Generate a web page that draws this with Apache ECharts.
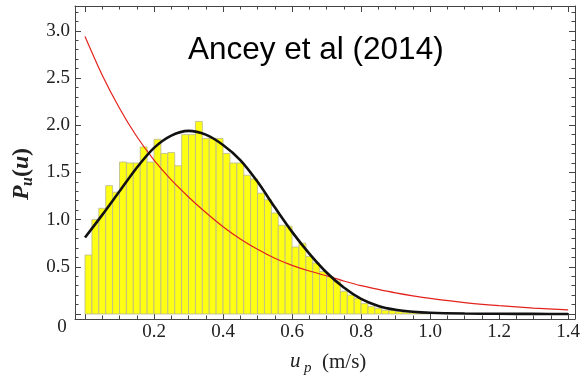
<!DOCTYPE html>
<html><head><meta charset="utf-8">
<script src="https://cdn.jsdelivr.net/npm/echarts@6/dist/echarts.min.js"></script>
<style>html,body{margin:0;padding:0;background:#fff}#c{width:583px;height:381px}</style>
</head><body><div id="c"></div>
<script>
// Histogram bins (left edges, width) and heights
const binWidth = 0.02;
const binStarts = [0.00,0.02,0.04,0.06,0.08,0.10,0.12,0.14,0.16,0.18,
  0.20,0.22,0.24,0.26,0.28,0.30,0.32,0.34,0.36,0.38,
  0.40,0.42,0.44,0.46,0.48,0.50,0.52,0.54,0.56,0.58,
  0.60,0.62,0.64,0.66,0.68,0.70,0.72,0.74,0.76,0.78,
  0.80,0.82,0.84,0.86,0.88,0.90,0.92,0.94,0.96,0.98];
const binHeights = [0.625,1.00,1.12,1.36,1.29,1.61,1.60,1.60,1.77,1.61,
  1.85,1.70,1.71,1.57,1.90,1.90,2.04,1.86,1.86,1.86,
  1.70,1.60,1.60,1.47,1.43,1.28,1.21,1.07,0.94,0.93,
  0.71,0.75,0.61,0.54,0.45,0.395,0.35,0.24,0.20,0.166,
  0.11,0.077,0.06,0.04,0.035,0.025,0.018,0.012,0.008,0.006];

// Black fitted curve
const fitU = [0.00,0.05,0.10,0.15,0.20,0.25,0.30,0.35,0.40,0.45,0.50,0.55,0.60,0.65,0.70,0.75,0.80,0.85,0.90,0.95,1.00,1.10,1.20,1.30,1.40];
const fitP = [0.81,1.05,1.30,1.55,1.76,1.89,1.94,1.90,1.79,1.63,1.40,1.13,0.87,0.64,0.44,0.28,0.16,0.085,0.045,0.024,0.013,0.005,0.002,0.001,0.0];

// Red curve
const expU = [0.00,0.05,0.10,0.15,0.20,0.25,0.30,0.35,0.40,0.45,0.50,0.55,0.60,0.65,0.70,0.75,0.80,0.85,0.90,0.95,1.00,1.10,1.20,1.30,1.40];
const expP = [2.94,2.53,2.18,1.88,1.63,1.42,1.24,1.075,0.925,0.795,0.685,0.59,0.515,0.455,0.405,0.35,0.30,0.26,0.223,0.192,0.165,0.12,0.088,0.063,0.043];

// Ticks
const xMajor = [0,0.2,0.4,0.6,0.8,1.0,1.2,1.4];
const xLabels = [0.2,0.4,0.6,0.8,1.0,1.2,1.4];
const xMinor = [0.05,0.1,0.15,0.25,0.3,0.35,0.45,0.5,0.55,0.65,0.7,0.75,0.85,0.9,0.95,1.05,1.1,1.15,1.25,1.3,1.35];
const yMajor = [0,0.5,1.0,1.5,2.0,2.5,3.0];
const yLabels = [0.5,1.0,1.5,2.0,2.5,3.0];
const yMinor = [0.1,0.2,0.3,0.4,0.6,0.7,0.8,0.9,1.1,1.2,1.3,1.4,1.6,1.7,1.8,1.9,2.1,2.2,2.3,2.4,2.6,2.7,2.8,2.9,3.1,3.2];

const XMIN = -0.029, XMAX = 1.42, YMIN = -0.053, YMAX = 3.263;
const frame = '#444';
const serif = '"Liberation Serif","Times New Roman",serif';

function xAx(pos, vals, len, showLine, labels) {
  return {
    type:'value', position:pos, min:XMIN, max:XMAX,
    axisLine:{show:showLine, onZero:false, lineStyle:{color:frame, width:1}},
    axisTick:{show:true, inside:true, length:len, customValues:vals, lineStyle:{color:frame, width:1}},
    axisLabel: labels ? {show:true, customValues:labels, formatter:v=>Number(v).toFixed(1), fontFamily:serif, fontSize:19, color:'#222', margin:4} : {show:false},
    splitLine:{show:false}
  };
}
function yAx(pos, vals, len, showLine, labels) {
  return {
    type:'value', position:pos, min:YMIN, max:YMAX,
    axisLine:{show:showLine, onZero:false, lineStyle:{color:frame, width:1}},
    axisTick:{show:true, inside:true, length:len, customValues:vals, lineStyle:{color:frame, width:1}},
    axisLabel: labels ? {show:true, customValues:labels, formatter:v=>Number(v).toFixed(1), fontFamily:serif, fontSize:19, color:'#222', margin:5} : {show:false},
    splitLine:{show:false}
  };
}

const chart = echarts.init(document.getElementById('c'), null, {renderer:'canvas'});
chart.setOption({
  animation:false,
  backgroundColor:'#fff',
  grid:{left:75, right:6, top:6, bottom:62, containLabel:false},
  xAxis:[
    xAx('bottom', xMajor, 6, true, xLabels),
    xAx('bottom', xMinor, 3.5, false, null),
    xAx('top', xMajor, 6, true, null),
    xAx('top', xMinor, 3.5, false, null)
  ],
  yAxis:[
    yAx('left', yMajor, 6, true, yLabels),
    yAx('left', yMinor, 3.5, false, null),
    yAx('right', yMajor, 6, true, null),
    yAx('right', yMinor, 3.5, false, null)
  ],
  series:[
    {
      type:'custom', xAxisIndex:0, yAxisIndex:0, clip:true, z:1,
      renderItem:function(params, api){
        const x0 = api.value(0), x1 = api.value(1), h = api.value(2);
        const p0 = api.coord([x0, h]);
        const p1 = api.coord([x1, 0]);
        return {type:'rect', shape:{x:p0[0], y:p0[1], width:p1[0]-p0[0], height:p1[1]-p0[1]},
          style:{fill:'#ffff14', stroke:'#b8b890', lineWidth:0.8}};
      },
      encode:{x:[0,1], y:2},
      data: binStarts.map((s,i)=>[s, s+binWidth, binHeights[i]])
    },
    {
      type:'line', xAxisIndex:0, yAxisIndex:0, z:3, smooth:0.3, showSymbol:false,
      lineStyle:{color:'#e3221c', width:1.2},
      data: expU.map((u,i)=>[u, expP[i]])
    },
    {
      type:'line', xAxisIndex:0, yAxisIndex:0, z:4, smooth:0.3, showSymbol:false,
      lineStyle:{color:'#111', width:2.6},
      data: fitU.map((u,i)=>[u, fitP[i]])
    }
  ],
  graphic:[
    {type:'text', x:188, y:50, z:10, style:{text:'Ancey et al (2014)', font:'31.5px "Liberation Sans", Arial, sans-serif', fill:'#000', align:'left', verticalAlign:'middle'}},
    {type:'text', x:62, y:327, style:{text:'0', font:'19px '+serif, fill:'#222', align:'center', verticalAlign:'middle'}},
    {type:'text', x:290, y:361, style:{text:'u', font:'italic 21px '+serif, fill:'#222', align:'left', verticalAlign:'middle'}},
    {type:'text', x:304, y:368, style:{text:'p', font:'italic 15px '+serif, fill:'#222', align:'left', verticalAlign:'middle'}},
    {type:'text', x:322, y:362, style:{text:'(m/s)', font:'21px '+serif, fill:'#222', align:'left', verticalAlign:'middle'}},
    {type:'group', x:22, y:173, rotation:Math.PI/2, children:[
      {type:'text', x:-27, y:0, style:{text:'P', font:'bold italic 24px '+serif, fill:'#222', align:'left', verticalAlign:'middle'}},
      {type:'text', x:-13, y:6, style:{text:'u', font:'bold italic 16px '+serif, fill:'#222', align:'left', verticalAlign:'middle'}},
      {type:'text', x:-4, y:0, style:{text:'(', font:'bold 24px '+serif, fill:'#222', align:'left', verticalAlign:'middle'}},
      {type:'text', x:4, y:0, style:{text:'u', font:'bold italic 24px '+serif, fill:'#222', align:'left', verticalAlign:'middle'}},
      {type:'text', x:17, y:0, style:{text:')', font:'bold 24px '+serif, fill:'#222', align:'left', verticalAlign:'middle'}}
    ]}
  ]
});
</script>
</body></html>
